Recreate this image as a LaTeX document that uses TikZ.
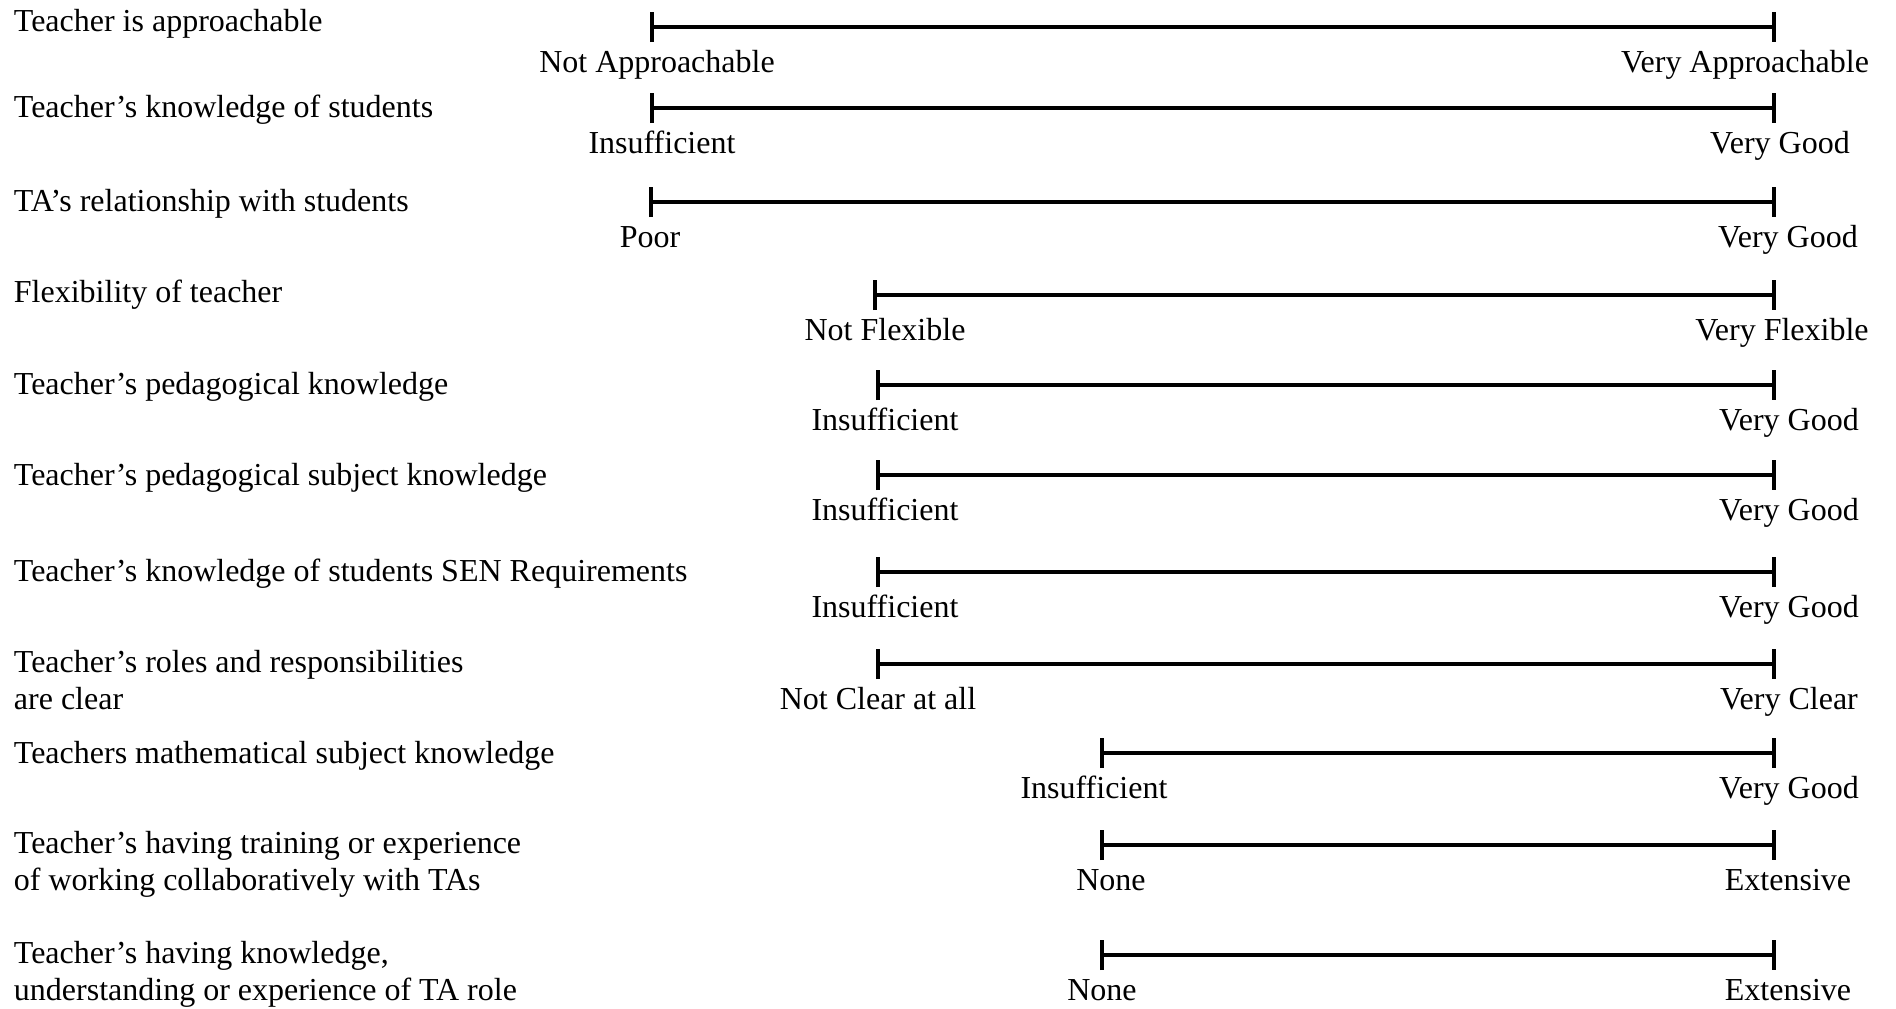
\documentclass[tikz,border=0pt]{standalone}
\usepackage{fontspec}
\setmainfont{Liberation Serif}
\usetikzlibrary{arrows.meta}

\begin{document}
\begin{tikzpicture}[x=0.01cm, y=-0.01cm]

\tikzset{%
every node/.style={inner sep=0pt, font=\fontsize{9.1}{10.25}\selectfont},%
every path/.style={line width=1.1pt}%
}

\tikzstyle{question}=[anchor=base west, align=left]
\tikzstyle{rating}=[anchor=base]
\tikzstyle{ratingbar}=[{Bar[width=0.3cm]}-{Bar[width=0.3cm]}]

\useasboundingbox (0,0) rectangle (1896,1008);

\node[question] (approach) at (12,31) {Teacher is approachable};
\coordinate (approach-l) at (650,27);
\coordinate (approach-r) at (1776,27);
\draw[ratingbar] (approach-l) to (approach-r);
\node[rating] (approach-lo) at (657,72) {Not Approachable};
\node[rating] (approach-hi) at (1745,72) {Very Approachable};

\node[question] (knowstud) at (12,117) {Teacher’s knowledge of students};
\coordinate (knowstud-l) at (650,108);
\coordinate (knowstud-r) at (1776,108);
\draw[ratingbar] (knowstud-l) to (knowstud-r);
\node[rating] (knowstud-lo) at (662,153) {Insufficient};
\node[rating] (knowstud-hi) at (1780,153) {Very Good};

\node[question] (tarel) at (12,211) {TA’s relationship with students};
\coordinate (tarel-l) at (649,202);
\coordinate (tarel-r) at (1776,202);
\draw[ratingbar] (tarel-l) to (tarel-r);
\node[rating] (tarel-lo) at (650,247) {Poor};
\node[rating] (tarel-hi) at (1788,247) {Very Good};

\node[question] (flex) at (12,302) {Flexibility of teacher};
\coordinate (flex-l) at (873,295);
\coordinate (flex-r) at (1776,295);
\draw[ratingbar] (flex-l) to (flex-r);
\node[rating] (flex-lo) at (885,340) {Not Flexible};
\node[rating] (flex-hi) at (1782,340) {Very Flexible};

\node[question] (peda) at (12,394) {Teacher’s pedagogical knowledge};
\coordinate (peda-l) at (876,385);
\coordinate (peda-r) at (1776,385);
\draw[ratingbar] (peda-l) to (peda-r);
\node[rating] (peda-lo) at (885,430) {Insufficient};
\node[rating] (peda-hi) at (1789,430) {Very Good};

\node[question] (pedsub) at (12,485) {Teacher’s pedagogical subject knowledge};
\coordinate (pedsub-l) at (876,475);
\coordinate (pedsub-r) at (1776,475);
\draw[ratingbar] (pedsub-l) to (pedsub-r);
\node[rating] (pedsub-lo) at (885,520) {Insufficient};
\node[rating] (pedsub-hi) at (1789,520) {Very Good};

\node[question] (sen) at (12,581) {Teacher’s knowledge of students SEN Requirements};
\coordinate (sen-l) at (876,572);
\coordinate (sen-r) at (1776,572);
\draw[ratingbar] (sen-l) to (sen-r);
\node[rating] (sen-lo) at (885,617) {Insufficient};
\node[rating] (sen-hi) at (1789,617) {Very Good};

\node[question] (roles) at (12,709) {Teacher’s roles and responsibilities\\are clear};
\coordinate (roles-l) at (876,664);
\coordinate (roles-r) at (1776,664);
\draw[ratingbar] (roles-l) to (roles-r);
\node[rating] (roles-lo) at (878,709) {Not Clear at all};
\node[rating] (roles-hi) at (1789,709) {Very Clear};

\node[question] (maths) at (12,763) {Teachers mathematical subject knowledge};
\coordinate (maths-l) at (1100,753);
\coordinate (maths-r) at (1776,753);
\draw[ratingbar] (maths-l) to (maths-r);
\node[rating] (maths-lo) at (1094,798) {Insufficient};
\node[rating] (maths-hi) at (1789,798) {Very Good};

\node[question] (train) at (12,890) {Teacher’s having training or experience\\of working collaboratively with TAs};
\coordinate (train-l) at (1100,845);
\coordinate (train-r) at (1776,845);
\draw[ratingbar] (train-l) to (train-r);
\node[rating] (train-lo) at (1111,890) {None};
\node[rating] (train-hi) at (1788,890) {Extensive};

\node[question] (tarole) at (12,1000) {Teacher’s having knowledge,\\understanding or experience of TA role};
\coordinate (tarole-l) at (1100,955);
\coordinate (tarole-r) at (1776,955);
\draw[ratingbar] (tarole-l) to (tarole-r);
\node[rating] (tarole-lo) at (1102,1000) {None};
\node[rating] (tarole-hi) at (1788,1000) {Extensive};

\end{tikzpicture}
\end{document}
